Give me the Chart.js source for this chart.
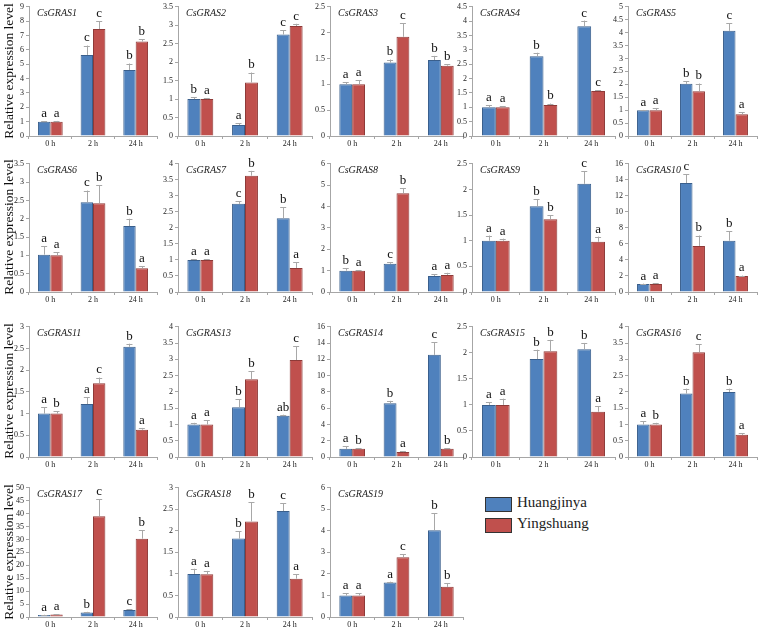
<!DOCTYPE html>
<html>
<head>
<meta charset="utf-8">
<script src="https://cdn.jsdelivr.net/npm/chart.js@4"></script>
<style>
  body { margin: 0; background: #fff; }
  #wrap { position: relative; width: 760px; height: 630px; overflow: hidden; font-family: 'Liberation Serif', serif; }
  canvas { position: absolute; }
  .ytitle { position: absolute; width: 150px; left: -66px; text-align: center; font-size: 13.5px; color: #111; transform: rotate(-90deg); }
  .lg { position: absolute; left: 485px; width: 25px; height: 13px; border: 1px solid #333; }
  .lgt { position: absolute; left: 517px; font-size: 15px; color: #222; }
</style>
</head>
<body>
<div id="wrap">
  <div class="lg" style="top:497px;background:#4f81bd"></div>
  <div class="lgt" style="top:494px">Huangjinya</div>
  <div class="lg" style="top:518px;background:#c0504d"></div>
  <div class="lgt" style="top:515px">Yingshuang</div>
</div>
<script>
// data
const times = ['0 h', '2 h', '24 h'];
const genes = ['CsGRAS1', 'CsGRAS2', 'CsGRAS3', 'CsGRAS4', 'CsGRAS5',
  'CsGRAS6', 'CsGRAS7', 'CsGRAS8', 'CsGRAS9', 'CsGRAS10',
  'CsGRAS11', 'CsGRAS13', 'CsGRAS14', 'CsGRAS15', 'CsGRAS16',
  'CsGRAS17', 'CsGRAS18', 'CsGRAS19'];
const huangjinya = [[1.0, 5.65, 4.6], [1.0, 0.3, 2.75], [1.0, 1.42, 1.47], [1.0, 2.78, 3.82], [1.0, 2.02, 4.07],
  [1.02, 2.45, 1.8], [1.0, 2.75, 2.3], [1.0, 1.32, 0.75], [1.0, 1.67, 2.11], [1.0, 13.6, 6.4],
  [1.0, 1.22, 2.54], [1.0, 1.53, 1.27], [1.0, 6.6, 12.55], [1.0, 1.88, 2.07], [1.0, 1.95, 2.0],
  [0.8, 1.7, 2.7], [1.0, 1.82, 2.46], [1.0, 1.6, 4.03]];
const yingshuang = [[1.0, 7.45, 6.58], [1.0, 1.45, 2.98], [1.0, 1.92, 1.36], [1.0, 1.08, 1.57], [1.0, 1.73, 0.84],
  [1.0, 2.42, 0.65], [1.0, 3.63, 0.75], [1.0, 4.62, 0.8], [1.0, 1.42, 0.98], [1.0, 5.75, 2.0],
  [1.0, 1.7, 0.63], [1.0, 2.39, 2.98], [1.0, 0.6, 1.0], [1.0, 2.03, 0.87], [1.0, 3.22, 0.68],
  [1.0, 39, 30.3], [0.99, 2.22, 0.89], [1.0, 2.77, 1.4]];
const errH = [[0.03, 0.65, 0.45], [0.05, 0.04, 0.12], [0.04, 0.06, 0.08], [0.08, 0.12, 0.2], [0.01, 0.1, 0.3],
  [0.23, 0.32, 0.2], [0.03, 0.08, 0.35], [0.1, 0.08, 0.07], [0.1, 0.14, 0.25], [0.05, 1.1, 1.2],
  [0.15, 0.16, 0.07], [0.05, 0.24, 0.03], [0.3, 0.3, 1.55], [0.05, 0.18, 0.12], [0.1, 0.15, 0.1],
  [0.1, 0.3, 0.3], [0.12, 0.17, 0.18], [0.1, 0.04, 0.8]];
const errY = [[0.05, 0.55, 0.17], [0.03, 0.27, 0.06], [0.08, 0.26, 0.03], [0.03, 0.05, 0.02], [0.08, 0.3, 0.08],
  [0.08, 0.5, 0.06], [0.02, 0.15, 0.18], [0.03, 0.25, 0.1], [0.04, 0.08, 0.1], [0.1, 1.3, 0.05],
  [0.05, 0.13, 0.04], [0.13, 0.25, 0.42], [0.1, 0.1, 0.1], [0.12, 0.22, 0.1], [0.05, 0.25, 0.05],
  [0.1, 6.5, 3.3], [0.08, 0.45, 0.1], [0.1, 0.15, 0.18]];
const letH = [['a', 'c', 'b'], ['b', 'a', 'c'], ['a', 'b', 'b'], ['a', 'b', 'c'], ['a', 'b', 'c'],
  ['a', 'c', 'b'], ['a', 'c', 'b'], ['b', 'c', 'a'], ['a', 'b', 'c'], ['a', 'c', 'b'],
  ['a', 'a', 'b'], ['a', 'b', 'ab'], ['a', 'b', 'c'], ['a', 'b', 'b'], ['a', 'b', 'b'],
  ['a', 'b', 'c'], ['a', 'b', 'c'], ['a', 'a', 'b']];
const letY = [['a', 'c', 'b'], ['a', 'b', 'c'], ['a', 'c', 'b'], ['a', 'b', 'c'], ['a', 'b', 'a'],
  ['a', 'b', 'a'], ['a', 'b', 'a'], ['a', 'b', 'a'], ['a', 'b', 'a'], ['a', 'b', 'a'],
  ['b', 'c', 'a'], ['a', 'b', 'c'], ['b', 'a', 'b'], ['a', 'b', 'a'], ['b', 'c', 'a'],
  ['a', 'c', 'b'], ['a', 'b', 'a'], ['a', 'c', 'b']];
const yMax = [9, 3.5, 2.5, 4.5, 5, 3.5, 4, 6, 2.5, 16, 3, 4, 16, 2.5, 4, 50, 3, 6];
const yStep = [1, 0.5, 0.5, 0.5, 0.5, 0.5, 0.5, 1, 0.5, 2, 0.5, 0.5, 2, 0.5, 0.5, 5, 0.5, 1];

// grid layout (axis x, right end, plot top / bottom)
const colAxis = [29, 178, 330, 472, 628];
const colRight = [157, 312, 463, 615, 757];
const rowTop = [5, 162, 325, 486];
const rowBottom = [136, 292, 457, 617];
const AXW = 28, AXH = 12, PADT = 5;

const axisGrey = '#a6a6a6';
const tickFont = { family: '"Liberation Serif", serif', size: 8 };

// error bars, letters and panel title
const extras = {
  id: 'extras',
  afterDatasetsDraw(chart) {
    const ctx = chart.ctx;
    const y = chart.scales.y;
    chart.data.datasets.forEach((ds, di) => {
      chart.getDatasetMeta(di).data.forEach((bar, k) => {
        const top = y.getPixelForValue(ds.data[k] + ds.err[k]);
        ctx.save();
        ctx.strokeStyle = '#a8a8a8';
        ctx.lineWidth = 1;
        ctx.beginPath();
        ctx.moveTo(Math.round(bar.x) + 0.5, bar.y);
        ctx.lineTo(Math.round(bar.x) + 0.5, top);
        ctx.moveTo(bar.x - 3, Math.round(top) + 0.5);
        ctx.lineTo(bar.x + 3, Math.round(top) + 0.5);
        ctx.stroke();
        ctx.fillStyle = '#111';
        ctx.font = '13px "Liberation Serif", serif';
        ctx.textAlign = 'center';
        ctx.textBaseline = 'bottom';
        ctx.fillText(ds.letters[k], bar.x, top - 1);
        ctx.restore();
      });
    });
    const a = chart.chartArea;
    ctx.save();
    ctx.fillStyle = '#222';
    ctx.font = 'italic 10px "Liberation Serif", serif';
    ctx.textBaseline = 'middle';
    ctx.fillText(chart.options.plugins.panelName, a.left + 8, a.top + 7);
    ctx.restore();
  }
};

const wrap = document.getElementById('wrap');

function build() {
  genes.forEach((g, i) => {
    const r = Math.floor(i / 5), c = i % 5;
    const left = colAxis[c] - AXW;
    const top = rowTop[r] - PADT;
    const w = colRight[c] - left + 3;
    const h = rowBottom[r] - top + AXH;
    const cv = document.createElement('canvas');
    cv.width = w; cv.height = h;
    cv.style.left = left + 'px';
    cv.style.top = top + 'px';
    wrap.appendChild(cv);

    new Chart(cv.getContext('2d'), {
      type: 'bar',
      data: {
        labels: times,
        datasets: [
          { label: 'Huangjinya', data: huangjinya[i], err: errH[i], letters: letH[i],
            backgroundColor: '#4f81bd', borderColor: '#3a5f8c', borderWidth: 1 },
          { label: 'Yingshuang', data: yingshuang[i], err: errY[i], letters: letY[i],
            backgroundColor: '#c0504d', borderColor: '#8e3a38', borderWidth: 1 }
        ]
      },
      options: {
        responsive: false,
        animation: false,
        layout: { padding: { top: PADT, right: 3, left: 0, bottom: 0 } },
        datasets: { bar: { categoryPercentage: 0.58, barPercentage: 1 } },
        plugins: { legend: { display: false }, tooltip: { enabled: false }, panelName: g },
        scales: {
          x: {
            grid: { offset: true, drawOnChartArea: false, color: axisGrey, tickLength: 3 },
            border: { color: axisGrey },
            ticks: { font: tickFont, color: '#222', padding: 0, maxRotation: 0 },
            afterFit: s => { s.height = AXH; }
          },
          y: {
            min: 0, max: yMax[i],
            grid: { drawOnChartArea: false, color: axisGrey, tickLength: 3 },
            border: { color: axisGrey },
            ticks: { stepSize: yStep[i], font: tickFont, color: '#222', padding: 2, callback: v => v },
            afterFit: s => { s.width = AXW; }
          }
        }
      },
      plugins: [extras]
    });
  });

  // y axis titles, one per row
  rowTop.forEach((t, r) => {
    const d = document.createElement('div');
    d.className = 'ytitle';
    d.textContent = 'Relative expression level';
    d.style.top = ((t + rowBottom[r]) / 2 - 8) + 'px';
    wrap.appendChild(d);
  });
}

Promise.all([
  document.fonts.load('13px "Liberation Serif"'),
  document.fonts.load('italic 11px "Liberation Serif"')
]).then(build, build);
</script>
</body>
</html>
